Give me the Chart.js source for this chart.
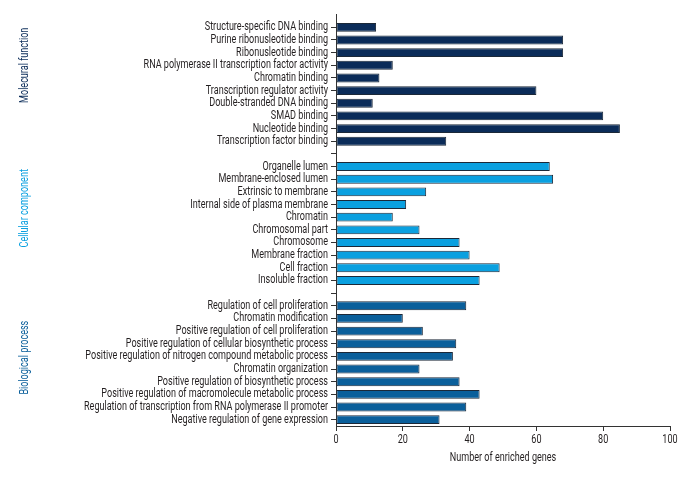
<!DOCTYPE html>
<html>
<head>
<meta charset="utf-8">
<script src="https://cdn.jsdelivr.net/npm/chart.js@4/dist/chart.umd.min.js"></script>
<style>
html,body{margin:0;padding:0;background:#fff;}
#wrap{width:696px;height:480px;position:relative;}
</style>
</head>
<body>
<div id="wrap"><canvas id="c" width="696" height="480"></canvas></div>
<script>
const groupNames = ['Molecural function', 'Cellular component', 'Biological process'];
const groupColors = ['#0b2c59', '#0aa0e0', '#0a5f9b'];

const mfLabels = ['Structure-specific DNA binding','Purine ribonusleotide binding','Ribonusleotide binding','RNA polymerase II transcription factor activity','Chromatin binding','Transcription regulator activity','Double-stranded DNA binding','SMAD binding','Nucleotide binding','Transcription factor binding'];
const mfValues = [12, 68, 68, 17, 13, 60, 11, 80, 85, 33];

const ccLabels = ['Organelle lumen','Membrane-enclosed lumen','Extrinsic to membrane','Internal side of plasma membrane','Chromatin','Chromosomal part','Chromosome','Membrane fraction','Cell fraction','Insoluble fraction'];
const ccValues = [64, 65, 27, 21, 17, 25, 37, 40, 49, 43];

const bpLabels = ['Regulation of cell proliferation','Chromatin modification','Positive regulation of cell proliferation','Positive regulation of cellular biosynthetic process','Positive regulation of nitrogen compound metabolic process','Chromatin organization','Positive regulation of biosynthetic process','Positive regulation of macromolecule metabolic process','Regulation of transcription from RNA polymerase II promoter','Negative regulation of gene expression'];
const bpValues = [39, 20, 26, 36, 35, 25, 37, 43, 39, 31];

const xTicks = [0, 20, 40, 60, 80, 100];
const xTitle = 'Number of enriched genes';

// Build combined table with spacer rows between groups
const groups = [[mfLabels, mfValues], [ccLabels, ccValues], [bpLabels, bpValues]];
const labels = [], values = [], colors = [];
groups.forEach((g, gi) => {
  if (gi > 0) { labels.push(''); values.push(null); colors.push('rgba(0,0,0,0)'); }
  g[0].forEach((l, i) => { labels.push(l); values.push(g[1][i]); colors.push(groupColors[gi]); });
});
// vertical position (in category units) of group titles
const groupTitlePos = [3.0, 14.3, 26.1];

const FONT = '"Liberation Sans Narrow", Roboto, "Liberation Sans", sans-serif';
const TXT = '#231f20';
let K = 0.86; // horizontal condensing of text (reference uses a condensed face)
const LONGEST_PX = 244; // width of the longest category label in the reference

function condText(ctx, text, x, y, align) {
  ctx.save();
  ctx.translate(x, y);
  ctx.scale(K, 1);
  ctx.textAlign = align;
  ctx.fillText(text, 0, 0);
  ctx.restore();
}

const textPlugin = {
  id: 'condensedText',
  afterDraw(chart) {
    const ctx = chart.ctx;
    const ys = chart.scales.y, xs = chart.scales.x, ca = chart.chartArea;
    ctx.save();
    // extend y axis line slightly above the plot, as in the reference
    ctx.strokeStyle = '#333'; ctx.lineWidth = 1;
    ctx.beginPath(); ctx.moveTo(ca.left + 0.5, ca.top - 7); ctx.lineTo(ca.left + 0.5, ca.top + 1); ctx.stroke();

    ctx.font = '12px ' + FONT;
    let maxW = 0;
    labels.forEach(l => { maxW = Math.max(maxW, ctx.measureText(l).width); });
    K = Math.min(1, LONGEST_PX / maxW);
    ctx.fillStyle = TXT;
    ctx.textBaseline = 'middle';
    labels.forEach((l, i) => {
      if (!l) return;
      condText(ctx, l, ca.left - 8, ys.getPixelForTick(i), 'right');
    });
    xTicks.forEach(v => {
      condText(ctx, String(v), xs.getPixelForValue(v), ca.bottom + 14, 'center');
    });
    condText(ctx, xTitle, (ca.left + ca.right) / 2, ca.bottom + 32, 'center');
    groupNames.forEach((n, i) => {
      const py = ys.getPixelForValue(groupTitlePos[i]);
      ctx.save();
      ctx.translate(25, py);
      ctx.rotate(-Math.PI / 2);
      ctx.fillStyle = groupColors[i];
      condText(ctx, n, 0, 0, 'center');
      ctx.restore();
    });
    ctx.restore();
  }
};

new Chart(document.getElementById('c'), {
  type: 'bar',
  data: {
    labels: labels,
    datasets: [{
      data: values,
      backgroundColor: colors,
      borderColor: '#1b2838',
      borderWidth: 1,
      borderSkipped: false,
      barPercentage: 0.7,
      categoryPercentage: 1.0
    }]
  },
  options: {
    indexAxis: 'y',
    responsive: false,
    animation: false,
    devicePixelRatio: 1,
    layout: { padding: { top: 21, right: 26, left: 0, bottom: 14 } },
    plugins: { legend: { display: false }, tooltip: { enabled: false } },
    scales: {
      x: {
        type: 'linear',
        min: 0, max: 100,
        afterBuildTicks(s) { s.ticks = xTicks.map(v => ({ value: v })); },
        afterFit(s) { s.height = 40; },
        grid: { drawOnChartArea: false, drawTicks: true, tickLength: 5, color: '#333' },
        border: { display: true, color: '#333', width: 1 },
        ticks: { color: 'rgba(0,0,0,0)', font: { family: FONT, size: 12 }, padding: 3, maxRotation: 0 }
      },
      y: {
        type: 'category',
        offset: true,
        afterFit(s) { s.width = 336; },
        grid: { drawOnChartArea: false, drawTicks: true, tickLength: 5, color: '#333', offset: false },
        border: { display: true, color: '#333', width: 1 },
        ticks: { color: 'rgba(0,0,0,0)', font: { family: FONT, size: 12 }, padding: 2, autoSkip: false }
      }
    }
  },
  plugins: [textPlugin]
});
</script>
</body>
</html>
